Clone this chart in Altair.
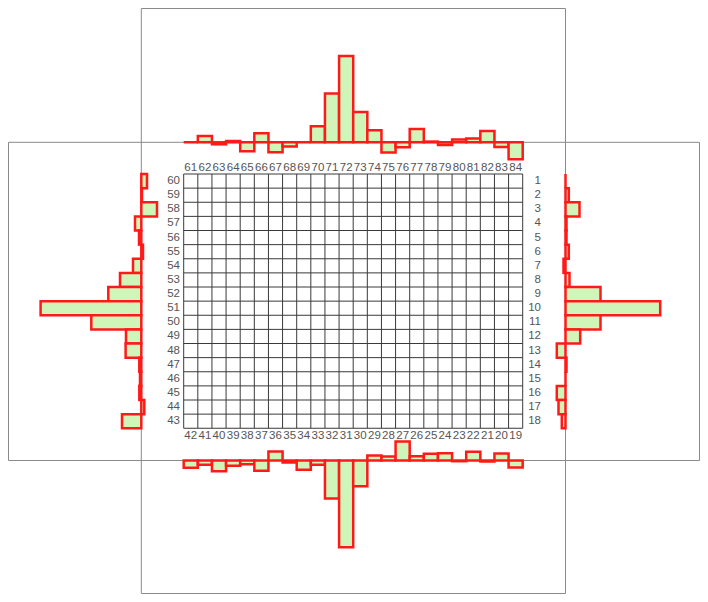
import altair as alt
import pandas as pd

# ---------------- data ----------------
top_labels = list(range(61, 85))
top_values = [0, 6.3, -2, 1.3, -9, 9, -10, -4.3, 0, 16, 48.7, 86.3,
              30.3, 12, -10.3, -5, 13.3, 0.7, -2.7, 2.7, 3.7, 11.3, -4.7, -17]

bottom_labels = list(range(42, 18, -1))
bottom_values = [7.3, 4.3, 10.7, 5.3, 3.7, 10.3, -9, 2, 9.3, 4.3, 38, 86.7,
                 25.7, -5, -4, -19, -4.3, -6.7, -7.3, 0.7, -8.7, 1, -7, 7]

left_labels = list(range(60, 42, -1))
left_values = [-5.7, -0.7, -15.7, 6.3, 2.3, -1.7, 8.3, 21.3, 33, 100.7,
               50, 15.3, 15.7, 2, 1.3, 2, -3, 19.3]

right_labels = list(range(1, 19))
right_values = [0, 3.3, 14, 1, 1, 3.3, -2, 4, 35, 94.7, 35, 14.7,
                -8.7, 1, 0, -8.7, -7, -3.7]

# ---------------- layout (page pixels -> grid-cell units) ----------------
CELL = 14.125            # one grid cell in pixels
GRID_LEFT, GRID_TOP = 183.7, 174.0
PAGE_W, PAGE_H, MARGIN = 708, 602, 8
W, H = PAGE_W - 2 * MARGIN, PAGE_H - 2 * MARGIN
VALUE_PX = 1.0           # pixels per histogram unit

TOP_BASE, BOTTOM_BASE = 142.3, 460.5
LEFT_BASE, RIGHT_BASE = 141.3, 565.5


def ux(px):
    return (px - GRID_LEFT) / CELL


def uy(px):
    return (px - GRID_TOP) / CELL


NCOL, NROW = len(top_labels), len(left_labels)
K = VALUE_PX / CELL
X_LO, X_HI = MARGIN, MARGIN + W
Y_LO, Y_HI = MARGIN, MARGIN + H

xs = alt.Scale(domain=[ux(X_LO), ux(X_HI)], nice=False, zero=False)
ys = alt.Scale(domain=[uy(Y_LO), uy(Y_HI)], nice=False, zero=False, reverse=True)


def X(f):
    return alt.X(f, type="quantitative", scale=xs, axis=None)


def Y(f):
    return alt.Y(f, type="quantitative", scale=ys, axis=None)


X2 = lambda f: alt.X2(f)
Y2 = lambda f: alt.Y2(f)

# frames of the surrounding panels
frames = pd.DataFrame({
    "x": [ux(LEFT_BASE), ux(X_LO + 0.5)],
    "x2": [ux(RIGHT_BASE), ux(X_HI - 0.5)],
    "y": [uy(Y_LO + 0.5), uy(TOP_BASE)],
    "y2": [uy(Y_HI - 0.5), uy(BOTTOM_BASE)],
})
frame_layer = alt.Chart(frames).mark_rect(
    fillOpacity=0, stroke="#8a8a8a", strokeWidth=1
).encode(x=X("x"), x2=X2("x2"), y=Y("y"), y2=Y2("y2"))

# grid lines
vlines = pd.DataFrame({"c": list(range(NCOL + 1))})
hlines = pd.DataFrame({"r": list(range(NROW + 1))})
vgrid = alt.Chart(vlines).mark_rule(color="#3a3a3a", strokeWidth=1).transform_calculate(
    y0="0", y1=str(NROW)
).encode(x=X("c"), y=Y("y0"), y2=Y2("y1"))
hgrid = alt.Chart(hlines).mark_rule(color="#3a3a3a", strokeWidth=1).transform_calculate(
    x0="0", x1=str(NCOL)
).encode(y=Y("r"), x=X("x0"), x2=X2("x1"))

# labels
txt = dict(font="Liberation Sans", fontSize=11.5, color="#555555")
top_df = pd.DataFrame({"i": range(NCOL), "lab": top_labels, "v": top_values})
bot_df = pd.DataFrame({"i": range(NCOL), "lab": bottom_labels, "v": bottom_values})
left_df = pd.DataFrame({"i": range(NROW), "lab": left_labels, "v": left_values})
right_df = pd.DataFrame({"i": range(NROW), "lab": right_labels, "v": right_values})

top_text = alt.Chart(top_df).mark_text(baseline="middle", align="center", **txt).transform_calculate(
    xc="datum.i + 0.5", yc=str(uy(168))
).encode(x=X("xc"), y=Y("yc"), text="lab:N")
bot_text = alt.Chart(bot_df).mark_text(baseline="middle", align="center", **txt).transform_calculate(
    xc="datum.i + 0.5", yc=str(uy(436))
).encode(x=X("xc"), y=Y("yc"), text="lab:N")
left_text = alt.Chart(left_df).mark_text(baseline="middle", align="right", **txt).transform_calculate(
    yc="datum.i + 0.5", xc=str(ux(180))
).encode(x=X("xc"), y=Y("yc"), text="lab:N")
right_text = alt.Chart(right_df).mark_text(baseline="middle", align="right", **txt).transform_calculate(
    yc="datum.i + 0.5", xc=str(ux(541))
).encode(x=X("xc"), y=Y("yc"), text="lab:N")

# histograms
bar = dict(fill="#cff6b8", stroke="#ff1a1a", strokeWidth=2.5)
tb, bb, lb, rb = uy(TOP_BASE), uy(BOTTOM_BASE), ux(LEFT_BASE), ux(RIGHT_BASE)

top_bars = alt.Chart(top_df).mark_rect(**bar).transform_calculate(
    a="datum.i", b="datum.i + 1", c=str(tb), d=f"{tb} - datum.v * {K}"
).encode(x=X("a"), x2=X2("b"), y=Y("c"), y2=Y2("d"))
bot_bars = alt.Chart(bot_df).mark_rect(**bar).transform_calculate(
    a="datum.i", b="datum.i + 1", c=str(bb), d=f"{bb} + datum.v * {K}"
).encode(x=X("a"), x2=X2("b"), y=Y("c"), y2=Y2("d"))
left_bars = alt.Chart(left_df).mark_rect(**bar).transform_calculate(
    a="datum.i", b="datum.i + 1", c=str(lb), d=f"{lb} - datum.v * {K}"
).encode(y=Y("a"), y2=Y2("b"), x=X("c"), x2=X2("d"))
right_bars = alt.Chart(right_df).mark_rect(**bar).transform_calculate(
    a="datum.i", b="datum.i + 1", c=str(rb), d=f"{rb} + datum.v * {K}"
).encode(y=Y("a"), y2=Y2("b"), x=X("c"), x2=X2("d"))

chart = alt.layer(
    frame_layer, vgrid, hgrid, top_text, bot_text, left_text, right_text,
    top_bars, bot_bars, left_bars, right_bars
).properties(
    width=W, height=H, autosize=alt.AutoSizeParams(type="none"), padding=0
).configure_view(stroke=None)

chart.save("out.html", embed_options={"renderer": "svg", "actions": False})
